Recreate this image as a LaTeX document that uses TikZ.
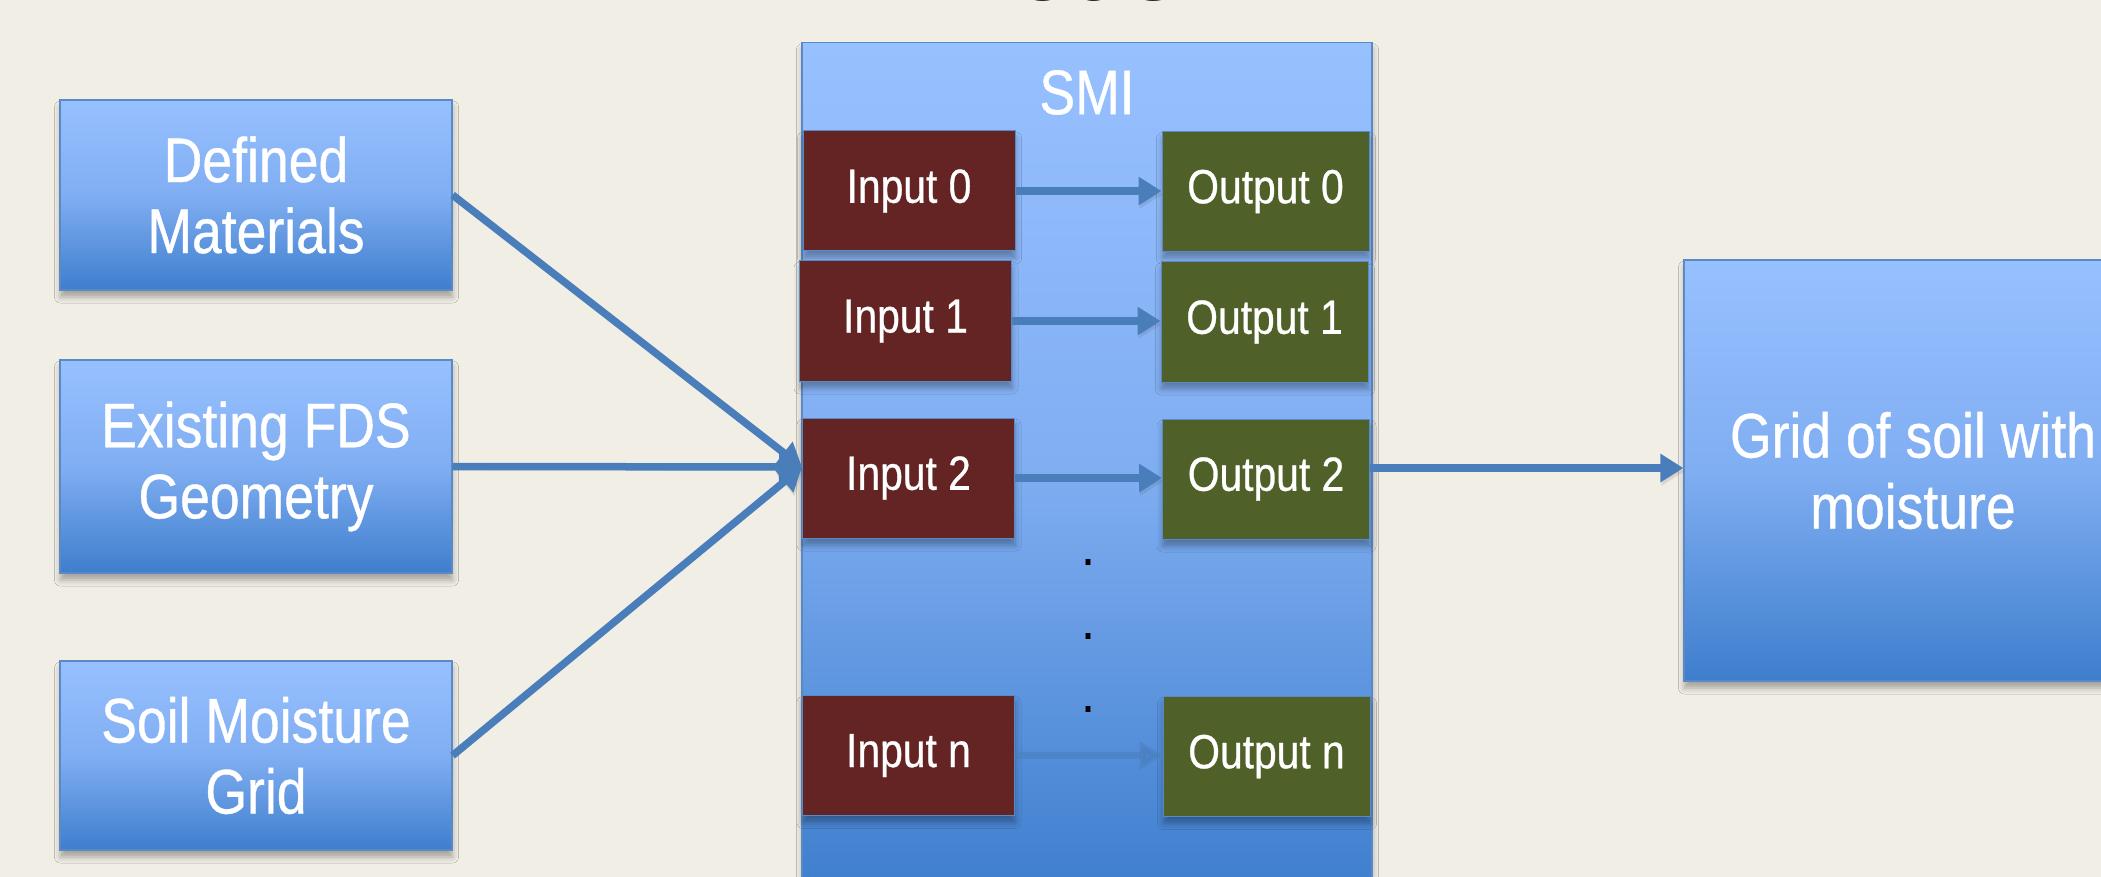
\documentclass[tikz,border=0pt]{standalone}
\usepackage{fontspec}
\setmainfont{Liberation Sans}
\newfontfamily\labfont[FakeStretch=0.85,FakeBold=0.6]{Liberation Sans}
\usetikzlibrary{arrows.meta,shadows.blur,calc}

\definecolor{bgc}{HTML}{F1EEE6}
\definecolor{boxtop}{HTML}{97C0FF}
\definecolor{boxmid}{HTML}{80AEF2}
\definecolor{boxbot}{HTML}{3E7ECD}
\definecolor{bordc}{HTML}{5A8AC6}
\definecolor{inred}{HTML}{632423}
\definecolor{outgreen}{HTML}{4F6128}
\definecolor{arrc}{HTML}{4A7EBB}

\tikzset{
  softshadow/.style={blur shadow={shadow xshift=0.5pt, shadow yshift=-7pt, shadow blur radius=6pt, shadow opacity=32}},
  bluebox/.style={draw=bordc, line width=1.2pt, top color=boxtop, bottom color=boxbot, middle color=boxmid,
    inner sep=0pt, text=white, align=center, font=\labfont\fontsize{63}{71}\selectfont, softshadow},
  inbox/.style={draw=bordc, line width=1pt, fill=inred, text=white, inner sep=0pt,
    font=\labfont\fontsize{48}{56}\selectfont, minimum width=212pt, minimum height=120pt, softshadow},
  outbox/.style={inbox, fill=outgreen, minimum width=207pt},
  flow/.style={draw=arrc, line width=7.5pt, -{Triangle[length=23pt,width=27pt]},
    preaction={draw=black!70, opacity=0.14, transform canvas={xshift=1pt, yshift=-3.5pt}}},
  dotmark/.style={inner sep=0pt, text=black, font=\labfont\fontsize{52}{52}\selectfont},
}

\begin{document}
\begin{tikzpicture}[x=1pt,y=-1pt]
\useasboundingbox (0,0) rectangle (2101,877);
\fill[bgc] (0,0) rectangle (2101,877);
\clip (0,0) rectangle (2101,877);

% title (cut off at the top)
\node[anchor=base, inner sep=0pt, text=black!88, font=\fontsize{99}{99}\selectfont] (title) at (1068,1) {Model};

% left input boxes
\node[bluebox, minimum width=392pt, minimum height=190pt] (b1) at (256,195) {Defined\\Materials};
\node[bluebox, minimum width=392pt, minimum height=213pt] (b2) at (256,466.5) {Existing FDS\\Geometry};
\node[bluebox, minimum width=392pt, minimum height=189pt] (b3) at (256,755.5) {Soil Moisture\\Grid};

% SMI container
\node[bluebox, minimum width=570pt, minimum height=850pt, anchor=north] (smi) at (1087,42) {};
\node[inner sep=0pt, text=white, font=\labfont\fontsize{63}{71}\selectfont] (smititle) at (1087,92.5) {SMI};

% inputs / outputs
\node[inbox]  (in0)  at (909,191)    {Input 0};
\node[outbox] (out0) at (1265.5,191.5) {Output 0};
\node[inbox]  (in1)  at (905.5,321)  {Input 1};
\node[outbox] (out1) at (1264.5,322) {Output 1};
\node[inbox]  (in2)  at (908.5,478)  {Input 2};
\node[outbox] (out2) at (1266,479)   {Output 2};
\node[inbox]  (inn)  at (908.5,755.5) {Input n};
\node[outbox] (outn) at (1266.5,756.5) {Output n};

% dots
\node[dotmark] (d1) at (1088,562) {.};
\node[dotmark] (d2) at (1088,636) {.};
\node[dotmark] (d3) at (1088,709) {.};

% result box
\node[bluebox, minimum width=458pt, minimum height=421pt] (res) at (1913,470.5) {Grid of soil with\\moisture};

% connectors
\coordinate (hub) at ([yshift=11pt]in2.west);
\draw[flow] (b1.east) -- (hub);
\draw[flow] (b2.east) -- (hub);
\draw[flow] (b3.east) -- (hub);

\draw[flow] (in0.east) -- (in0.east -| out0.west);
\draw[flow] (in1.east) -- (in1.east -| out1.west);
\draw[flow] (in2.east) -- (in2.east -| out2.west);
\draw[draw=arrc, line width=7.5pt, -{Triangle[length=23pt,width=27pt]}, opacity=0.5] (inn.east) -- (inn.east -| outn.west);

\coordinate (o2) at ([yshift=11pt]out2.east);
\draw[flow] (o2) -- (o2 -| res.west);
\end{tikzpicture}
\end{document}
